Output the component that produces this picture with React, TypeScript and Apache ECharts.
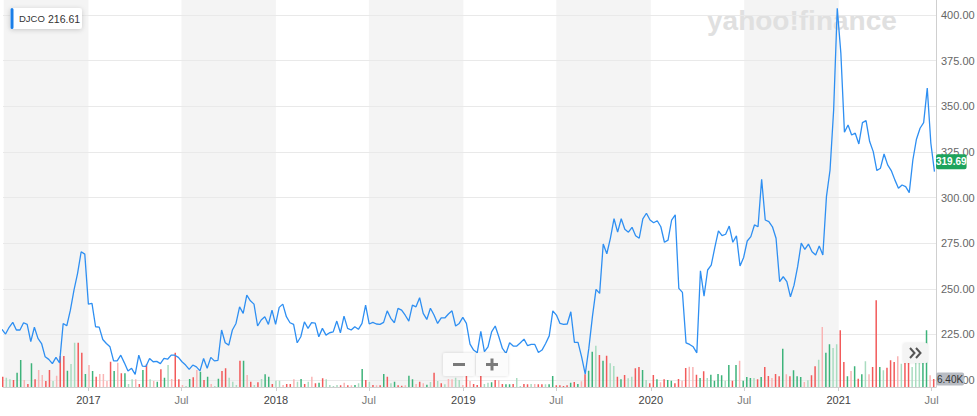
import React, { useEffect, useRef } from "react";
import * as echarts from "echarts";

// ---- data ----
const tickerName = "DJCO";
const tickerValue = "216.61";
const lastPriceTag = 319.69;
const firstWeek = "2016-07-18";
const axisStart = "2016-07-20";
const axisEnd = "2021-07-08";
const shadedHalfYears: [string, string][] = [
  ["2016-07-20", "2017-01-01"],
  ["2017-07-01", "2018-01-01"],
  ["2018-07-01", "2019-01-01"],
  ["2019-07-01", "2020-01-01"],
  ["2020-07-01", "2021-01-01"],
];
const monthLabel = "Jul";
const priceTicks = { min: 200, max: 408.3, step: 25 };

const prices = [
  227.8, 225.2, 228.9, 231.6, 227.4, 227.4, 231.4, 230.5, 221, 228.9,
  222.8, 220, 212.7, 211.3, 209, 212.4, 209.4, 231, 229.7, 238.3,
  249.3, 258.5, 270.3, 269, 241.6, 242, 229.2, 229, 222.2, 220,
  218.2, 210.5, 210.5, 213.6, 209.4, 204.9, 206.4, 203.1, 213.6, 207.6,
  207.5, 211.8, 210, 210.2, 209, 211.8,
  211.4, 213.6, 213.6, 212.4, 210, 208.2, 205.8, 208.2, 207.2, 205,
  211.8, 206.4, 212.4, 210.5, 210.8, 227.4, 220.4, 219.1, 227.4, 231,
  240.1, 236.5, 246.5, 243.4, 241.6, 229.6, 232.9, 234.7, 230.5, 238.3,
  230.5, 239.8, 241.6, 234.7, 231.4, 230.5, 220.4, 223.7, 231.9, 228.3,
  231.4, 231.2,
  223.7, 228.3, 224.6, 225.9, 226.4, 232.3, 225.9, 235, 228.3, 227.4,
  229.2, 227.8, 231, 241, 230.7, 231.6, 230.7, 230.5, 231.6, 237.9,
  233.8, 231.4, 239.3, 238.3, 235.5, 232.3, 241, 240.1, 245.1, 236.5,
  233.2, 239.3, 235.6, 231, 234.1, 234, 236.2, 237.9, 229.6, 231,
  234.3, 231, 219.7, 216.4,
  214.9, 226.7, 215.5, 218.2, 226.4, 229.6, 223.7, 217.3, 214.6, 220.4,
  218.6, 218.6, 220.4, 222.4, 218.8, 219.5, 219.5, 215.1, 216.4, 220,
  224.2, 237.9, 235.6, 231, 230.5, 230.7, 237.4, 220.6, 220.6, 212.7,
  203.2, 217.3, 234.7, 249.7, 247.5, 274.5, 269.2, 277.8, 288.4, 281.1,
  288.4, 282.6,
  281, 283.7, 279.1, 277.7, 288.3, 291.4, 287.7, 286.2, 287.3, 284,
  275.5, 276.7, 287.7, 290.5, 250.2, 248, 220.4, 219.5, 218.2, 214.9,
  259.9, 246, 260.3, 263, 272.7, 281.7, 279.1, 279.9, 284.4, 275.5,
  279, 262.5, 267.2, 276.2, 278.6, 285, 284, 310, 287.7, 286.8,
  284, 277.7, 253.9, 256.6, 253.9, 245.6, 252, 262.1, 275, 271.6,
  274.5, 270.3, 268.5, 273.5, 268.5, 300.5, 315.1, 348, 403.8, 379.2,
  335.8, 339.8, 334.3, 335.3, 329.4, 341.1, 342.2, 330.7, 325.2, 314.8,
  316.1, 323.9, 317.9, 314.8, 309.7, 305.1, 306.9, 306, 302.7, 320.6,
  332, 338, 341.1, 360, 329.8, 314.2,
];

// weekly volume, thousands of shares
const volumesK = [
  8.2, 7.4, 6.2, 5.6, 11.4, 21.6, 5.6, 2.4, 19, 6.2, 13.6, 9.6, 4.8, 13.6, 4.8, 9, 24.8, 24.8, 13, 18.4,
  35.4, 35.4, 27.4, 10.4, 17.6, 12.8, 8.2, 10.4, 10.4, 4.8, 20.2, 12.8, 19.4, 11, 11, 2.4, 6.2, 6.2, 2.4, 13.6,
  18.2, 6.2, 4.8, 4.2,
  14.2, 7.4, 17.6, 6.4, 27.4, 6.2, 1.6, 0.8, 6.4, 7.8, 13.6, 12.2, 5.6, 8.2, 2.4, 0.8, 6.6, 12.8, 15, 7.4,
  4.2, 1.6, 21, 21, 9.6, 4.2, 1.6, 3.8, 6.4, 10.2, 8.2, 2.4, 5, 5, 1.6, 2.4, 2.4, 6.2, 4.2, 6.4,
  2.4, 4.2, 8.2,
  3, 3.4, 7, 6.2, 1.6, 0.8, 1.6, 1.4, 3.4, 1.4, 1.4, 1.6, 3, 14.4, 5.6, 4.2, 1.6, 1.4, 1.4, 10.4,
  8.2, 3, 4.2, 1.4, 1, 1.4, 9, 6.2, 2.4, 4.2, 3, 1.8, 4, 11.4, 4.8, 3, 2.2, 6.4, 6.2, 7.4,
  5.6, 1.6, 11.2,
  4.8, 2.4, 1.6, 12.8, 2.4, 3.4, 3.8, 5.6, 5.4, 2.4, 2.2, 2.2, 2.4, 7.2, 0.8, 2.4, 2.2, 2.4, 2.4, 2.2,
  2.2, 2.2, 2.2, 8.8, 1.4, 1.4, 0.8, 1.4, 3.4, 4, 2.4, 4.6, 10.2, 13, 28.2, 33, 25.6, 21, 25, 19,
  16.8, 8.2, 6.2,
  9.6, 7, 8.2, 15, 16, 13.6, 5.6, 3, 9.6, 6.2, 3.8, 6.2, 5.6, 5, 3, 6.4, 5, 15.2, 16.2, 16,
  9.8, 7.2, 12.6, 7.2, 9.8, 5, 10.4, 9.4, 5, 17.6, 5, 17.6, 21, 5, 8, 7.2, 7.2, 6.2, 8, 16,
  8.8, 7.2, 10.4,
  8.6, 30.6, 10.2, 8.6, 13.4, 8.6, 8, 4, 5.4, 9.4, 16.6, 21.8, 48, 27.4, 34.2, 31.2, 34.2, 45.4, 20, 8.6,
  12.8, 16.6, 6.6, 10.2, 20.6, 10.2, 16, 69.4, 16, 13.4, 15.4, 21.4, 20, 24.6, 18.6, 19.2, 19.2, 16, 19.2, 19.2,
  19.2, 45.4, 9.4, 6.4,
];

// G = up (strong), g = up (light), R = down (strong), r = down (light)
const volumeColorCodes =
  "RggRGGrRGR" + "rrRRgrRRGg" + "gRRGrGRrrr" + "RGrRGggrRG" + "RgrG" +
  "RGgrRRrgGR" + "rGRGrgGRRg" + "ggRGrRgRgG" + "GRggrRRrgG" + "Rgr" +
  "RGRggggRrR" + "rGgGRgRrRG" + "RgGRRrGGrR" + "rGgRgRgrrg" + "grR" +
  "rRRRggGRrR" + "GGRggRRgrR" + "RgGGRRRRGR" + "GrRGGgRGRg" + "gRG" +
  "RggRRGgRRG" + "rRGGRRrRrr" + "RGRgGGGGgG" + "RGrGGGgRGR" + "RrR" +
  "RGrRGGGrgR" + "RgrGGggRRG" + "rGRGgrRRGg" + "RRRrgRRggg" + "GGrR";

// ---- helpers ----
const toTime = (s: string) => {
  const [y, m, d] = s.split("-").map(Number);
  return new Date(y, m - 1, d).getTime();
};
const DAY = 24 * 3600 * 1000;

const colorMap: Record<string, string> = {
  G: "#3db37a",
  g: "#a9dcc0",
  R: "#f25a5a",
  r: "#f9b4b4",
};

export default function App() {
  const ref = useRef<HTMLDivElement>(null);

  useEffect(() => {
    if (!ref.current) return;
    const chart = echarts.init(ref.current, null, { renderer: "svg" });

    const [fy, fm, fd] = firstWeek.split("-").map(Number);
    const dates: number[] = [];
    for (let i = 0; i < Math.max(prices.length, volumesK.length); i++) {
      dates.push(new Date(fy, fm - 1, fd + 7 * i).getTime());
    }
    const priceData = prices.map((p, i) => [dates[i], p]);
    const volData = volumesK.map((v, i) => ({
      value: [dates[i], v],
      itemStyle: { color: colorMap[volumeColorCodes[i]] || "#3db37a" },
    }));
    const lastVol = volumesK[volumesK.length - 1];

    const xMin = toTime(axisStart);
    const xMax = toTime(axisEnd);
    const font = "Liberation Sans, Arial, sans-serif";
    const hidden = { color: "rgba(0,0,0,0)", width: 0 };

    const option: any = {
      animation: false,
      backgroundColor: "#ffffff",
      textStyle: { fontFamily: font },
      grid: [
        { left: 3, right: 41, top: 0, height: 380, outerBoundsMode: "none", containLabel: false },
        { left: 3, right: 41, top: 0, height: 387, outerBoundsMode: "none", containLabel: false },
      ],
      xAxis: [
        {
          type: "time",
          gridIndex: 0,
          min: xMin,
          max: xMax,
          show: false,
          splitLine: { show: false },
        },
        {
          type: "time",
          gridIndex: 1,
          min: xMin,
          max: xMax,
          splitNumber: 10,
          minInterval: 175 * DAY,
          maxInterval: 190 * DAY,
          axisLine: { show: true, lineStyle: { color: "#cfcfcf", width: 1 } },
          axisTick: { show: true, length: 4, lineStyle: { color: "#cfcfcf" } },
          splitLine: { show: false },
          axisLabel: {
            margin: 7,
            fontSize: 11,
            fontFamily: font,
            showMinLabel: false,
            hideOverlap: false,
            formatter: (v: number) => {
              const d = new Date(v);
              if (d.getDate() !== 1) return "";
              if (d.getMonth() === 0) return "{y|" + d.getFullYear() + "}";
              if (d.getMonth() === 6) return "{m|" + monthLabel + "}";
              return "";
            },
            rich: {
              y: { color: "#444", fontSize: 11, fontFamily: font },
              m: { color: "#7a7a7a", fontSize: 11, fontFamily: font },
            },
          },
        },
      ],
      yAxis: [
        {
          type: "value",
          gridIndex: 0,
          position: "right",
          min: priceTicks.min,
          max: priceTicks.max,
          interval: priceTicks.step,
          z: 3,
          axisLine: { show: false },
          axisTick: { show: false },
          splitLine: {
            show: true,
            showMaxLine: false,
            lineStyle: { color: "#e9e9e9", width: 1 },
          },
          axisLabel: {
            margin: 5,
            fontSize: 11,
            fontFamily: font,
            color: "#666",
            formatter: (v: number) =>
              Math.abs(v % priceTicks.step) < 1e-6 ? v.toFixed(2) : "",
          },
        },
        {
          type: "value",
          gridIndex: 1,
          position: "right",
          min: 0,
          max: 309.6,
          z: 3,
          axisLine: { show: true, lineStyle: { color: "#cfcfcf", width: 1 } },
          axisTick: { show: false },
          axisLabel: { show: false },
          splitLine: { show: false },
        },
      ],
      series: [
        {
          type: "line",
          name: "bands",
          xAxisIndex: 1,
          yAxisIndex: 1,
          data: [],
          z: 1,
          silent: true,
          markArea: {
            silent: true,
            itemStyle: { color: "#f4f4f4" },
            label: { show: false },
            data: shadedHalfYears.map(([a, b]) => [
              { xAxis: toTime(a) },
              { xAxis: toTime(b) },
            ]),
          },
        },
        {
          type: "bar",
          name: "volume",
          xAxisIndex: 1,
          yAxisIndex: 1,
          data: volData,
          barWidth: 1.5,
          z: 4,
          silent: true,
          markLine: {
            silent: true,
            symbol: "none",
            lineStyle: hidden,
            label: {
              show: true,
              position: "end",
              distance: 0,
              formatter: lastVol.toFixed(2) + "K",
              backgroundColor: "#b8bcc3",
              color: "#333",
              fontSize: 10,
              fontFamily: font,
              padding: [2, 1, 1, 1],
              borderRadius: 2,
            },
            data: [{ yAxis: lastVol }],
          },
        },
        {
          type: "line",
          name: tickerName,
          xAxisIndex: 0,
          yAxisIndex: 0,
          data: priceData,
          showSymbol: false,
          symbol: "none",
          z: 5,
          silent: true,
          lineStyle: { color: "#2e8ff2", width: 1.3 },
          markLine: {
            silent: true,
            symbol: "none",
            lineStyle: hidden,
            label: {
              show: true,
              position: "end",
              distance: 0,
              formatter: lastPriceTag.toFixed(2),
              backgroundColor: "#1da35c",
              color: "#fff",
              fontSize: 10,
              fontWeight: "bold",
              fontFamily: font,
              padding: [3, 0, 2, 0],
              borderRadius: 2,
            },
            data: [{ yAxis: lastPriceTag }],
          },
        },
      ],
      graphic: [
        // watermark
        {
          type: "text",
          left: 707,
          top: 6,
          z: 3,
          silent: true,
          style: {
            text: "yahoo!finance",
            fill: "#e0e0e0",
            font: "bold 28px " + font,
          },
        },
        // ticker legend box
        {
          type: "group",
          left: 10,
          top: 8,
          z: 20,
          children: [
            {
              type: "rect",
              z: 20,
              shape: { x: 0, y: 0, width: 72, height: 21, r: 3 },
              style: {
                fill: "#fff",
                shadowBlur: 5,
                shadowColor: "rgba(0,0,0,0.18)",
                shadowOffsetY: 1,
              },
            },
            {
              type: "rect",
              z: 21,
              shape: { x: 0.5, y: 0, width: 3, height: 21, r: 1.5 },
              style: { fill: "#1b7fe8" },
            },
            {
              type: "text",
              z: 21,
              x: 9,
              y: 5.5,
              style: {
                text: tickerName,
                fill: "#333",
                font: "9.5px " + font,
              },
            },
            {
              type: "text",
              z: 21,
              x: 38,
              y: 5,
              style: {
                text: tickerValue,
                fill: "#333",
                font: "10.5px " + font,
              },
            },
          ],
        },
        // zoom buttons
        {
          type: "group",
          left: 443,
          top: 353,
          z: 20,
          children: [
            {
              type: "rect",
              z: 20,
              shape: { x: 0, y: 0, width: 32, height: 23, r: 2 },
              style: { fill: "#fbfbfb", shadowBlur: 3, shadowColor: "rgba(0,0,0,0.15)" },
            },
            {
              type: "rect",
              z: 20,
              shape: { x: 33, y: 0, width: 32, height: 23, r: 2 },
              style: { fill: "#fbfbfb", shadowBlur: 3, shadowColor: "rgba(0,0,0,0.15)" },
            },
            { type: "rect", z: 21, shape: { x: 10, y: 10, width: 12, height: 3 }, style: { fill: "#7a7a7a" } },
            { type: "rect", z: 21, shape: { x: 43, y: 10, width: 12, height: 3 }, style: { fill: "#7a7a7a" } },
            { type: "rect", z: 21, shape: { x: 47.5, y: 5.5, width: 3, height: 12 }, style: { fill: "#7a7a7a" } },
          ],
        },
        // scroll-forward button
        {
          type: "group",
          left: 903,
          top: 343,
          z: 20,
          children: [
            {
              type: "rect",
              z: 20,
              shape: { x: 0, y: 0, width: 25, height: 20, r: 2 },
              style: { fill: "#f4f4f4", shadowBlur: 2, shadowColor: "rgba(0,0,0,0.1)" },
            },
            {
              type: "polyline",
              z: 21,
              shape: { points: [[7, 5], [11.5, 10], [7, 15]] },
              style: { stroke: "#555", lineWidth: 2, fill: "none" },
            },
            {
              type: "polyline",
              z: 21,
              shape: { points: [[13, 5], [17.5, 10], [13, 15]] },
              style: { stroke: "#555", lineWidth: 2, fill: "none" },
            },
          ],
        },
      ],
    };

    chart.setOption(option);
    return () => chart.dispose();
  }, []);

  return (
    <div
      ref={ref}
      style={{ position: "absolute", left: 0, top: 0, width: 977, height: 416, background: "#fff" }}
    />
  );
}
